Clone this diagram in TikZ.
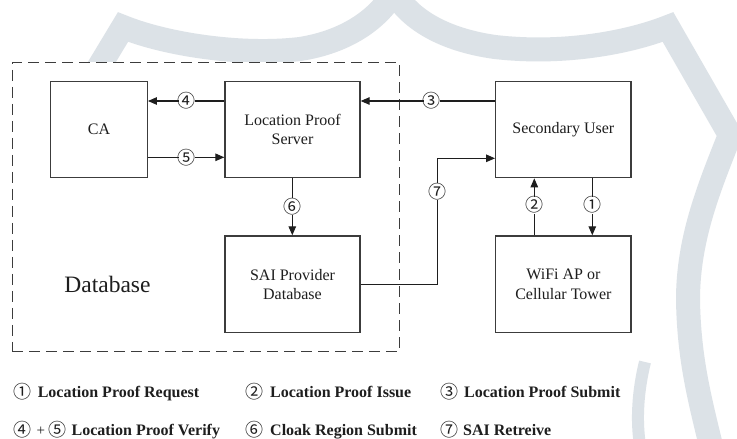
\documentclass[tikz,border=0pt]{standalone}
\usepackage{fontspec}
\setmainfont{Liberation Serif}
\newfontfamily\circfont{Noto Sans CJK SC}
\usetikzlibrary{arrows.meta}
\definecolor{wmc}{RGB}{220,226,231}
\definecolor{ink}{RGB}{30,30,30}
\definecolor{frame}{RGB}{60,60,60}
\begin{document}
\begin{tikzpicture}[x=1pt,y=-1pt,
  wm/.style={draw=wmc,line width=24pt,line join=miter},
  box/.style={draw=frame,line width=1.3pt,fill=white,align=center,inner sep=0pt,
    text=ink,font=\fontsize{16}{19.3}\selectfont},
  conn/.style={draw=ink,line width=1.1pt,-{Triangle[length=9pt,width=7.5pt]}},
  lab/.style={fill=white,inner xsep=-1pt,inner ysep=0pt,text=ink,font=\circfont\fontsize{18}{18}\selectfont},
  legc/.style={anchor=base west,inner sep=0pt,text=ink,font=\circfont\fontsize{18}{18}\selectfont},
  leg/.style={anchor=base west,inner sep=0pt,text=ink,font=\bfseries\fontsize{16}{16}\selectfont},
  dbox/.style={draw=frame,line width=1.3pt,dash pattern=on 11pt off 6pt,fill=white,inner sep=0pt}]
\useasboundingbox (0,0) rectangle (737,439);
\fill[white] (0,0) rectangle (737,439);
% watermark
\draw[wm] (85,90) -- (123,27) .. controls (165,44) and (240,56) .. (300,49)
  .. controls (345,42) and (378,20) .. (394,-8)
  .. controls (410,20) and (445,40) .. (495,47)
  .. controls (565,55) and (630,42) .. (668,27)
  -- (730,135) .. controls (708,190) and (688,240) .. (688,300)
  .. controls (689,360) and (700,400) .. (712,450);
\draw[wm,line width=12pt] (645,362) .. controls (638,390) and (636,420) .. (640,445);
% container
\node[dbox,minimum width=387pt,minimum height=289.4pt] (db) at (205.8,207) {};
\node[inner sep=0pt,text=ink,font=\fontsize{23.5}{26}\selectfont] (dbl) at (107.5,284) {Database};
% boxes
\node[box,minimum width=96.6pt,minimum height=96pt] (ca) at (99,129.7) {CA};
\node[box,minimum width=135pt,minimum height=96pt] (lps) at (292.5,129.7) {Location Proof\\Server};
\node[box,minimum width=135pt,minimum height=96.7pt] (sai) at (292.5,284.3) {SAI Provider\\Database};
\node[box,minimum width=135.3pt,minimum height=96pt] (su) at (563.35,129.7) {Secondary User};
\node[box,minimum width=135.3pt,minimum height=96.7pt] (wifi) at (563.35,284.3) {WiFi AP or\\Cellular Tower};
% helper coordinates
\coordinate (yA) at (0,101);
\coordinate (yB) at (0,157.3);
\coordinate (y7) at (0,158.3);
\coordinate (x6) at (292.3,0);
\coordinate (x2) at (534.3,0);
\coordinate (x1) at (592.3,0);
\coordinate (b7) at (437.3,284.3);
% connectors
\draw[conn] (lps.west |- yA) -- node[lab,pos=0.49] {④} (ca.east |- yA);
\draw[conn] (ca.east |- yB) -- node[lab,pos=0.51] {⑤} (lps.west |- yB);
\draw[conn] (su.west |- yA) -- node[lab,pos=0.47] {③} (lps.east |- yA);
\draw[conn] (x6 |- lps.south) -- node[lab,pos=0.5] {⑥} (x6 |- sai.north);
\draw[conn] (sai.east) -- (b7) -- node[lab,pos=0.735] {⑦} (b7 |- y7) -- (su.west |- y7);
\draw[conn] (x2 |- wifi.north) -- node[lab,pos=0.53] {②} (x2 |- su.south);
\draw[conn] (x1 |- su.south) -- node[lab,pos=0.47] {①} (x1 |- wifi.north);
% legend
\node[legc] (c1) at (13,398) {①};
\node[leg] (t1) at (37.6,397) {Location Proof Request};
\node[legc] (c2) at (245,398) {②};
\node[leg] (t2) at (270,397) {Location Proof Issue};
\node[legc] (c3) at (440,398) {③};
\node[leg] (t3) at (464,397) {Location Proof Submit};
\node[legc] (c4) at (13,436) {④};
\node[leg,font=\fontsize{15}{15}\selectfont] (plus) at (36.5,435) {+};
\node[legc] (c5) at (48.5,436) {⑤};
\node[leg] (t4) at (71.4,435) {Location Proof Verify};
\node[legc] (c6) at (245,436) {⑥};
\node[leg] (t6) at (270,435) {Cloak Region Submit};
\node[legc] (c7) at (440,436) {⑦};
\node[leg] (t7) at (463,435) {SAI Retreive};
\end{tikzpicture}
\end{document}
